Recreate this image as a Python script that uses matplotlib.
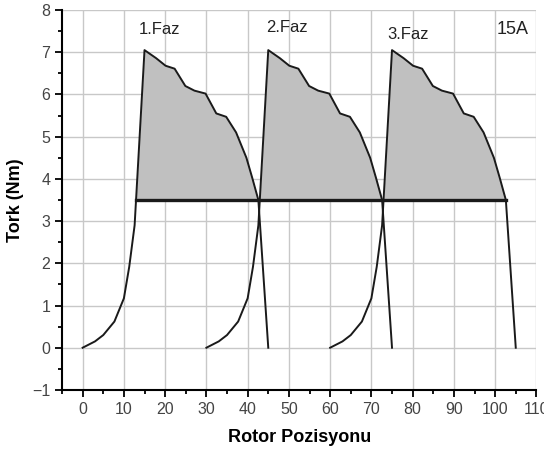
import numpy as np
import matplotlib.pyplot as plt
from matplotlib.ticker import MultipleLocator

plt.rcParams["font.family"] = ["Liberation Sans", "DejaVu Sans"]

# phase 1 torque curve, phases 2 and 3 are the same curve shifted
rotor = [0, 3, 5, 7.7, 10, 11.3, 12.6, 15, 17.8, 20.1, 22.3, 24.9, 27.1,
         29.8, 32.4, 34.8, 37.2, 39.7, 41.1, 42.6, 45]
tork = [0, 0.15, 0.3, 0.62, 1.17, 1.92, 2.9, 7.05, 6.86, 6.68, 6.61, 6.2,
        6.09, 6.02, 5.55, 5.47, 5.1, 4.5, 4.03, 3.5, 0]
shifts = [0, 30, 60]
phase_labels = ["1.Faz", "2.Faz", "3.Faz"]
label_pos = [(13.6, 7.42), (44.4, 7.48), (73.8, 7.32)]
level = 3.5

x = np.array(rotor)
y = np.array(tork)

fig = plt.figure(figsize=(5.44, 4.55), dpi=100)
ax = fig.add_axes([0.114, 0.143, 0.872, 0.835])

for s in shifts:
    ax.fill_between(x + s, y, level, where=(y >= level), interpolate=True,
                    color="#c0c0c0", lw=0, zorder=2)
    ax.plot(x + s, y, color="#1a1a1a", lw=1.4, zorder=3)

# horizontal line from first rising crossing to last falling crossing
x_start = np.interp(level, y[:7 + 1], x[:7 + 1])
x_end = np.interp(level, y[7:][::-1], x[7:][::-1]) + shifts[-1]
ax.plot([x_start, x_end], [level, level], color="#1a1a1a", lw=2.4, zorder=4)

for lab, (lx, ly) in zip(phase_labels, label_pos):
    ax.text(lx, ly, lab, fontsize=12, color="#222222", zorder=5)
ax.text(100.3, 7.42, "15A", fontsize=13, color="#222222", zorder=5)

ax.set_xlim(-5, 110)
ax.set_ylim(-1, 8)
ax.xaxis.set_major_locator(MultipleLocator(10))
ax.xaxis.set_minor_locator(MultipleLocator(5))
ax.yaxis.set_major_locator(MultipleLocator(1))
ax.yaxis.set_minor_locator(MultipleLocator(0.5))
ax.grid(True, which="major", color="#c8c8c8", lw=1, zorder=0)
ax.set_axisbelow(True)

for side in ["top", "right"]:
    ax.spines[side].set_visible(False)
for side in ["left", "bottom"]:
    ax.spines[side].set_linewidth(1.5)

ax.tick_params(which="major", direction="out", length=5, width=1.3,
               labelsize=11.5, labelcolor="#444444")
ax.tick_params(which="minor", direction="out", length=3, width=1.3)

ax.set_xlabel("Rotor Pozisyonu", fontsize=13, fontweight="bold", labelpad=9)
ax.set_ylabel("Tork (Nm)", fontsize=13, fontweight="bold", labelpad=6)

fig.savefig("out.png", dpi=100)
